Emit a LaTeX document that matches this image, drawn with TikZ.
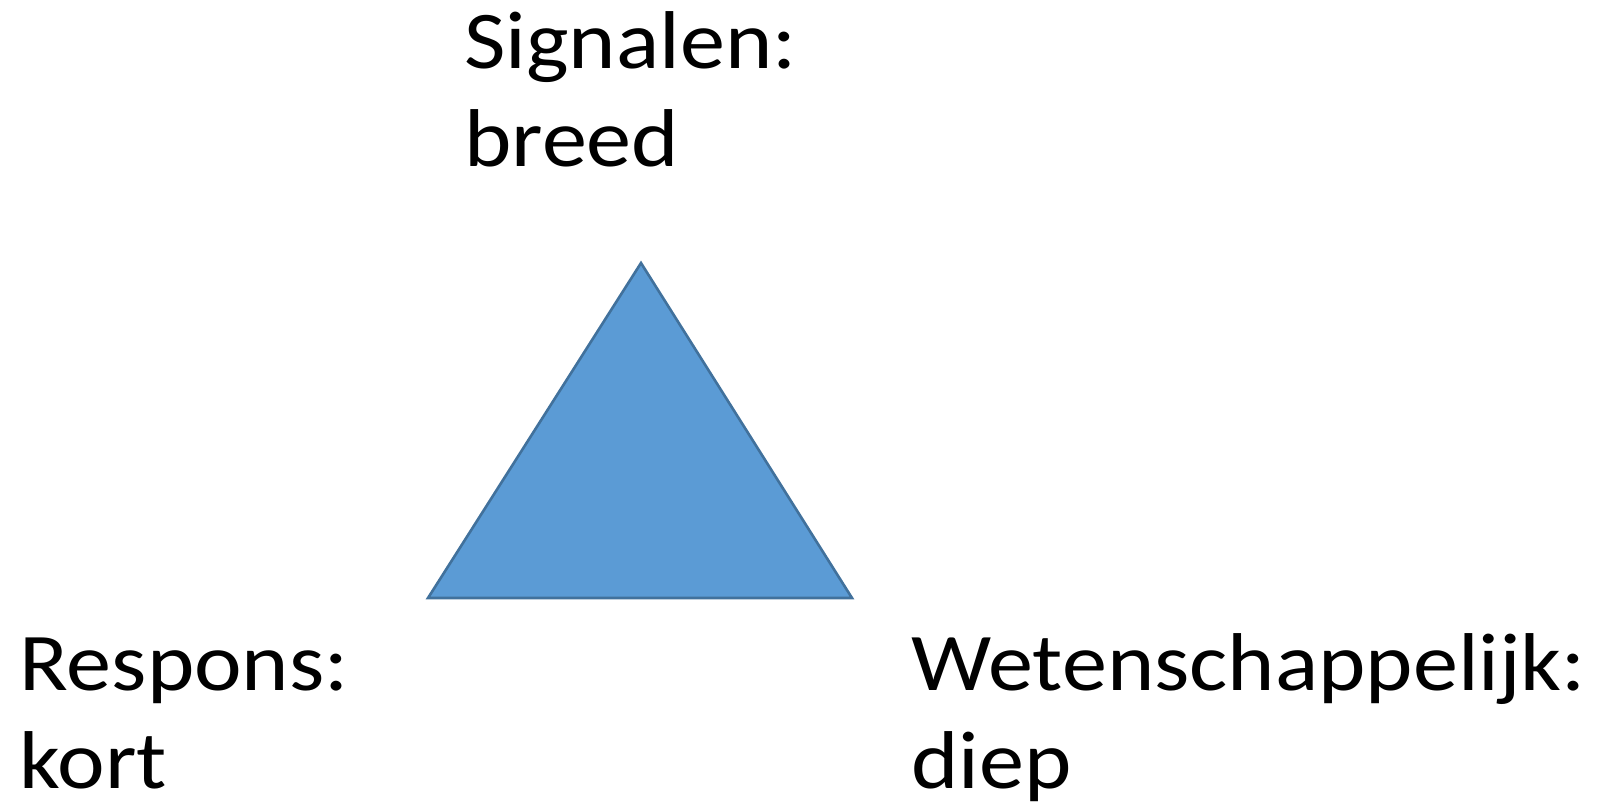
\documentclass[tikz,border=0pt]{standalone}
\usepackage{fontspec}
\setmainfont[FakeStretch=1.1]{Carlito}
\usepackage{xcolor}
\usetikzlibrary{positioning}

\definecolor{triFill}{HTML}{5B9BD5}
\definecolor{triLine}{HTML}{41719C}

\begin{document}
\begin{tikzpicture}[
    x=0.5pt, y=-0.5pt,
    corner/.style={inner sep=0pt, anchor=base west, align=left, font=\fontsize{41}{49}\selectfont},
    tri/.style={fill=triFill, draw=triLine, line width=1.3pt, line join=miter}
]
\useasboundingbox (0,0) rectangle (1602,804);

% Triangle corners
\coordinate (apex) at (641,263);
\coordinate (bl) at (428,598);
\coordinate (br) at (852,598);
\draw[tri] (apex) -- (bl) -- (br) -- cycle;

% Labels (anchored on the baseline of the second line)
\node[corner] (signalen) at (464,166) {Signalen:\\breed};
\node[corner] (respons) at (19,788) {Respons:\\kort};
\node[corner] (wetensch) at (911,788) {Wetenschappelijk:\\diep};
\end{tikzpicture}
\end{document}
